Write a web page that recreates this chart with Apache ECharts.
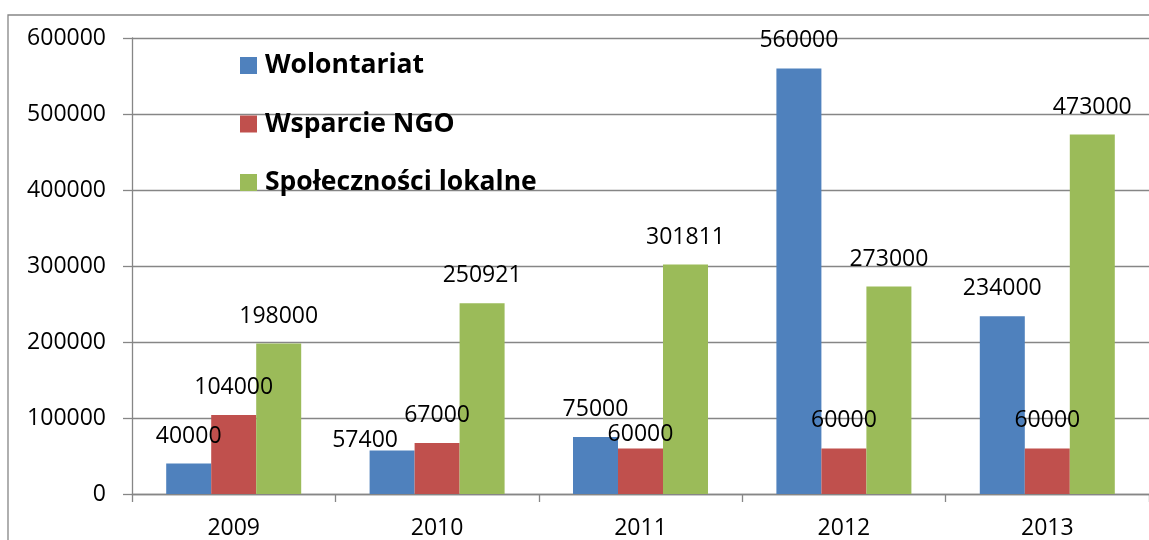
<!DOCTYPE html>
<html>
<head>
<meta charset="utf-8">
<title>Wolontariat / Wsparcie NGO / Społeczności lokalne</title>
<script src="https://cdn.jsdelivr.net/npm/echarts@6/dist/echarts.min.js"></script>
<style>
  html, body { margin: 0; padding: 0; background: #fff; }
  #chart { width: 1149px; height: 540px; }
</style>
</head>
<body>
<div id="chart"></div>
<script>
// dane
var years = ['2009', '2010', '2011', '2012', '2013'];
var wolontariat = [40000, 57400, 75000, 560000, 234000];
var wsparcieNgo = [104000, 67000, 60000, 60000, 60000];
var spolecznosci = [198000, 250921, 301811, 273000, 473000];
var yTicks = [0, 100000, 200000, 300000, 400000, 500000, 600000];

// kilka etykiet przesuniętych ręcznie jak w oryginale (index -> [dx, dy])
var labelShift = {
  'Wolontariat': { 1: [-27, 18] },
  'Wsparcie NGO': { 2: [0, 14] }
};

var font = '"Open Sans", "Noto Sans", sans-serif';
var axisGray = '#868686';

function makeSeries(name, values, color) {
  var shifts = labelShift[name] || {};
  return {
    name: name,
    type: 'bar',
    barWidth: 45,
    barGap: 0,
    itemStyle: { color: color },
    label: {
      show: true,
      position: 'top',
      distance: 16,
      color: '#000',
      fontFamily: font,
      fontSize: 23
    },
    data: values.map(function (v, i) {
      if (shifts[i]) {
        return { value: v, label: { offset: shifts[i] } };
      }
      return v;
    })
  };
}

var myChart = echarts.init(document.getElementById('chart'));
var option = {
  animation: false,
  textStyle: { fontFamily: font },
  graphic: [
    {
      type: 'rect',
      z: -10,
      shape: { x: 8, y: 15, width: 1300, height: 700 },
      style: { fill: 'none', stroke: axisGray, lineWidth: 1.3 }
    }
  ],
  legend: {
    orient: 'vertical',
    left: 240,
    top: 52,
    padding: 0,
    itemWidth: 17,
    itemHeight: 17,
    itemGap: 31.5,
    icon: 'rect',
    textStyle: {
      fontFamily: font,
      fontSize: 26.5,
      fontWeight: 'bold',
      color: '#000',
      lineHeight: 26,
      padding: [0, 0, 0, 3]
    },
    data: ['Wolontariat', 'Wsparcie NGO', 'Społeczności lokalne']
  },
  grid: {
    left: 132,
    top: 38,
    bottom: 45,
    width: 1021,
    containLabel: false
  },
  xAxis: {
    type: 'category',
    data: years,
    axisLine: { lineStyle: { color: axisGray, width: 1.3 } },
    axisTick: { show: true, alignWithLabel: false, length: 8, lineStyle: { color: axisGray, width: 1.3 } },
    axisLabel: { color: '#000', fontFamily: font, fontSize: 23, margin: 23 }
  },
  yAxis: {
    type: 'value',
    min: yTicks[0],
    max: yTicks[yTicks.length - 1],
    interval: yTicks[1] - yTicks[0],
    axisLine: { show: true, lineStyle: { color: axisGray, width: 1.3 } },
    axisTick: { show: true, length: 9, lineStyle: { color: axisGray, width: 1.3 } },
    axisLabel: {
      color: '#000',
      fontFamily: font,
      fontSize: 23,
      margin: 26,
      formatter: function (v) { return String(v); }
    },
    splitLine: { show: true, lineStyle: { color: axisGray, width: 1.3 } }
  },
  series: [
    makeSeries('Wolontariat', wolontariat, '#4F81BD'),
    makeSeries('Wsparcie NGO', wsparcieNgo, '#C0504D'),
    makeSeries('Społeczności lokalne', spolecznosci, '#9BBB59')
  ]
};
myChart.setOption(option);
</script>
</body>
</html>
